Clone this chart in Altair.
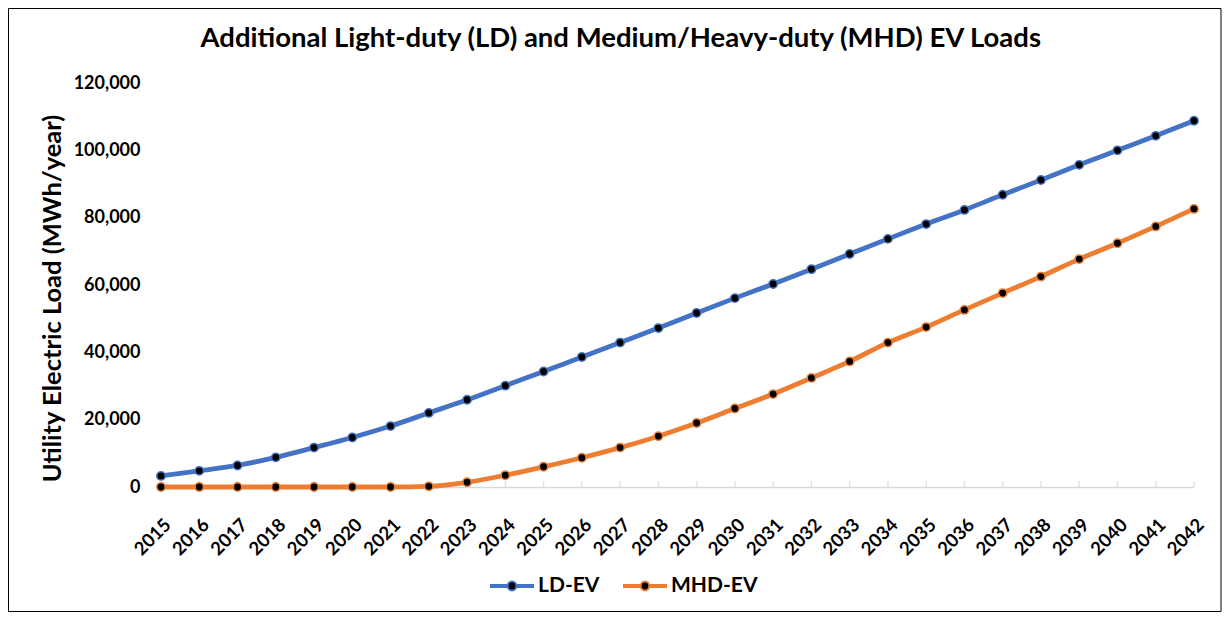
import altair as alt
import pandas as pd

years = [str(y) for y in range(2015, 2043)]
ld_ev = [3300, 4800, 6400, 8800, 11700, 14700, 18100, 22000, 25900, 30100,
         34300, 38600, 42900, 47200, 51700, 56100, 60300, 64700, 69200, 73700,
         78100, 82300, 86800, 91200, 95700, 100000, 104300, 108800]
mhd_ev = [0, 0, 0, 0, 0, 0, 0, 200, 1400, 3500,
          6000, 8700, 11700, 15100, 19000, 23300, 27600, 32400, 37300, 42900,
          47500, 52600, 57600, 62500, 67700, 72400, 77400, 82600]
series_names = ["LD-EV", "MHD-EV"]
series_colors = ["#4472C4", "#ED7D31"]
y_ticks = [0, 20000, 40000, 60000, 80000, 100000, 120000]

df = pd.DataFrame({
    "Year": years * 2,
    "Load": ld_ev + mhd_ev,
    "Series": [series_names[0]] * len(years) + [series_names[1]] * len(years),
})
ticks_df = pd.DataFrame({"Year": years})

FONT = "Lato"
W, H = 1033, 404

x_scale = alt.Scale(type="point", padding=0)
x_axis = alt.Axis(
    title=None, labelAngle=-45, labelFont=FONT, labelFontWeight="bold",
    labelFontSize=18.5, labelColor="black", ticks=False, tickSize=0,
    labelPadding=28, domainColor="#d9d9d9", domainWidth=1.5, grid=False,
)
x_enc = alt.X("Year:O", sort=years, scale=x_scale, axis=x_axis)
y_enc = alt.Y(
    "Load:Q",
    scale=alt.Scale(domain=[0, 120000], nice=False),
    axis=alt.Axis(
        title="Utility Electric Load (MWh/year)", values=y_ticks, format=",.0f",
        labelFont=FONT, labelFontWeight="bold", labelFontSize=18, labelColor="black",
        titleFont=FONT, titleFontWeight="bold", titleFontSize=25.5, titleColor="black",
        titlePadding=8, titleY=215, ticks=False, tickSize=0, labelPadding=21,
        domain=False, gridColor="#d9d9d9", gridWidth=1.5,
    ),
)
stroke_scale = alt.Scale(domain=series_names, range=series_colors)

legend_path = (
    "M-1,-0.045L-0.2,-0.045M-1,0.045L-0.2,0.045"
    "M0.2,-0.045L1,-0.045M0.2,0.045L1,0.045"
    "M0.2,0A0.2,0.2 0 1,1 -0.2,0A0.2,0.2 0 1,1 0.2,0Z"
)
legend = alt.Legend(
    title=None, orient="none", legendX=328, legendY=480,
    direction="horizontal", symbolType=legend_path, symbolSize=1936,
    symbolStrokeWidth=2, symbolFillColor="black", symbolOpacity=1,
    labelFont=FONT, labelFontWeight="bold", labelFontSize=21,
    labelColor="black", labelOffset=3, columnPadding=19,
)

lines = alt.Chart(df).mark_line(strokeWidth=4.8, interpolate="monotone").encode(
    x=x_enc, y=y_enc,
    stroke=alt.Stroke("Series:N", scale=stroke_scale, legend=legend),
)
points = alt.Chart(df).mark_point(
    filled=True, fill="black", size=70, strokeWidth=1.5, opacity=1
).encode(
    x=x_enc, y=y_enc,
    stroke=alt.Stroke("Series:N", scale=stroke_scale, legend=legend),
)
axis_ticks = alt.Chart(ticks_df).mark_tick(
    orient="vertical", size=6, thickness=1.5, color="#d9d9d9", yOffset=-3
).encode(x=x_enc, y=alt.datum(0))

frame = alt.Chart(pd.DataFrame({"k": [0]})).mark_rect(
    fill="transparent", stroke="black", strokeWidth=1
).encode(x=alt.value(-152.5), x2=alt.value(1060), y=alt.value(-74.5), y2=alt.value(528.5))

chart = alt.layer(frame, axis_ticks, lines, points).properties(
    width=W, height=H,
    padding=0,
    title=alt.TitleParams(
        "Additional Light-duty (LD) and Medium/Heavy-duty (MHD) EV Loads",
        font=FONT, fontSize=27.5, fontWeight="bold", color="black",
        anchor="middle", frame="bounds", baseline="alphabetic", offset=-66, dx=6,
    ),
).configure_view(stroke=None)

chart.save("out.html", embed_options={"renderer": "svg", "actions": False})
